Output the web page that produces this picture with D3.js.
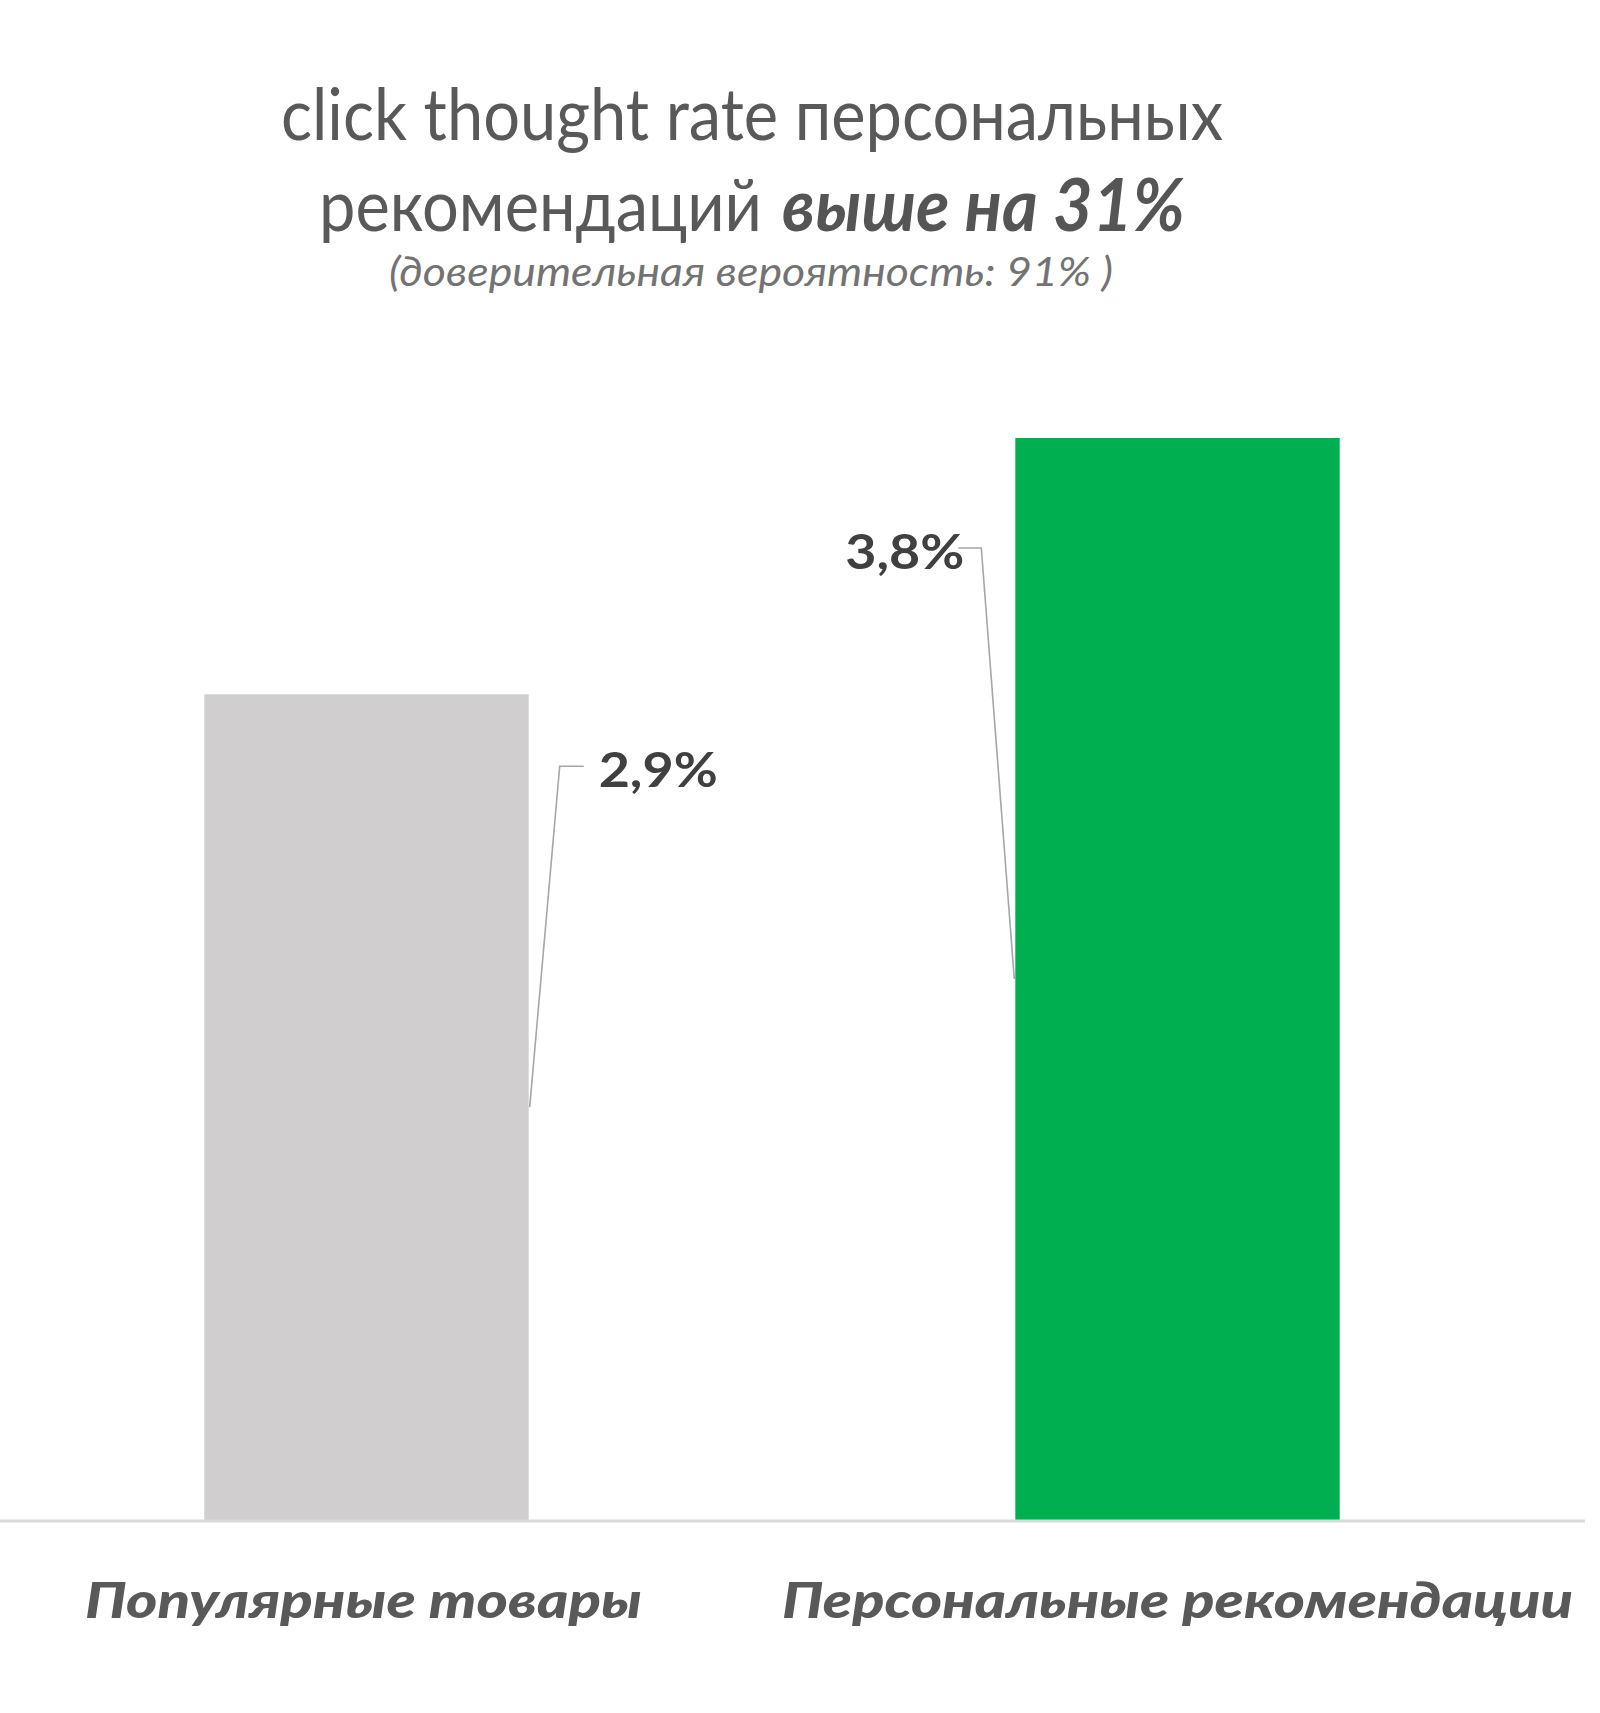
<!DOCTYPE html>
<html>
<head>
<meta charset="utf-8">
<script src="https://cdn.jsdelivr.net/npm/d3@7"></script>
<style>
  html, body { margin: 0; padding: 0; background: #fff; }
  svg { display: block; }
</style>
</head>
<body>
<svg id="chart" width="1600" height="1713"></svg>
<script>
// ---- data ----
const categories = ["Популярные товары", "Персональные рекомендации"];
const values = [2.9, 3.8];
const valueLabels = ["2,9%", "3,8%"];
const barColors = ["#D0CECE", "#00B050"];
const titleLine1 = "click thought rate персональных";
const titleLine2a = "рекомендаций";
const titleLine2b = "выше на 31%";
const subtitle = "(доверительная вероятность: 91% )";

// ---- layout ----
const baseY = 1520;
const svg = d3.select("#chart");

const x = d3.scaleBand()
  .domain(categories)
  .range([-39, 1583])
  .paddingInner(0.6)
  .paddingOuter(0.3);

const y = d3.scaleLinear().domain([0, 4]).range([baseY, baseY - 4 * (1082 / 3.8)]);

const data = categories.map((c, i) => ({ c, v: values[i], label: valueLabels[i], color: barColors[i], i }));

// title
const FONT = "Lato, 'Open Sans', 'DejaVu Sans', sans-serif";
svg.append("text")
  .attr("x", 281).attr("y", 140)
  .attr("font-family", FONT).attr("font-size", 72)
  .attr("fill", "#595959")
  .attr("textLength", 942).attr("lengthAdjust", "spacingAndGlyphs")
  .text(titleLine1);
svg.append("text")
  .attr("x", 319).attr("y", 231)
  .attr("font-family", FONT).attr("font-size", 72)
  .attr("fill", "#595959")
  .attr("textLength", 443).attr("lengthAdjust", "spacingAndGlyphs")
  .text(titleLine2a);
svg.append("text")
  .attr("x", 782).attr("y", 231)
  .attr("font-family", FONT).attr("font-size", 72)
  .attr("font-weight", "bold").attr("font-style", "italic")
  .attr("fill", "#555555")
  .attr("textLength", 403).attr("lengthAdjust", "spacingAndGlyphs")
  .text(titleLine2b);
svg.append("text")
  .attr("x", 389).attr("y", 286)
  .attr("font-family", FONT).attr("font-size", 40)
  .attr("font-style", "italic")
  .attr("fill", "#737373")
  .attr("textLength", 724).attr("lengthAdjust", "spacingAndGlyphs")
  .text(subtitle);

// bars
svg.append("g").selectAll("rect")
  .data(data).join("rect")
  .attr("x", d => x(d.c))
  .attr("y", d => y(d.v))
  .attr("width", x.bandwidth())
  .attr("height", d => y(0) - y(d.v))
  .attr("fill", d => d.color);

// axis baseline
svg.append("line")
  .attr("x1", 0).attr("x2", 1585)
  .attr("y1", baseY + 1).attr("y2", baseY + 1)
  .attr("stroke", "#d9d9d9").attr("stroke-width", 3);

// data labels with leader lines
const labelLayout = [
  { side: "right", dx: 70, dy: 72, lead: 24, tl: 119 },
  { side: "left", dx: 51, dy: 110, lead: 23, tl: 119 }
];
const lab = svg.append("g");
data.forEach((d, i) => {
  const L = labelLayout[i];
  const top = y(d.v);
  const midY = y(d.v / 2);
  const cy = top + L.dy;
  let pts, tx, anchor;
  if (L.side === "right") {
    const edge = x(d.c) + x.bandwidth();
    const lx = edge + L.dx - 15;
    pts = [[lx, cy], [lx - L.lead, cy], [edge + 1, midY]];
    tx = edge + L.dx;
    anchor = "start";
  } else {
    const edge = x(d.c);
    const lx = edge - L.dx + 17;
    pts = [[lx - L.lead, cy], [lx, cy], [edge - 1, midY]];
    tx = edge - L.dx;
    anchor = "end";
  }
  lab.append("path")
    .attr("d", d3.line()(pts))
    .attr("fill", "none")
    .attr("stroke", "#a6a6a6")
    .attr("stroke-width", 1.6);
  lab.append("text")
    .attr("x", tx).attr("y", cy + 21)
    .attr("text-anchor", anchor)
    .attr("font-family", FONT).attr("font-size", 48)
    .attr("font-weight", "bold")
    .attr("fill", "#404040")
    .attr("textLength", L.tl).attr("lengthAdjust", "spacingAndGlyphs")
    .text(d.label);
});

// category labels
const catWidths = [557, 791];
svg.append("g").selectAll("text")
  .data(data).join("text")
  .attr("x", d => x(d.c) + x.bandwidth() / 2 - catWidths[d.i] / 2 + (d.i === 0 ? -3 : 0))
  .attr("y", 1618)
  .attr("font-family", FONT).attr("font-size", 50)
  .attr("font-weight", "900").attr("font-style", "italic")
  .attr("fill", "#595959")
  .attr("textLength", d => catWidths[d.i]).attr("lengthAdjust", "spacingAndGlyphs")
  .text(d => d.c);
</script>
</body>
</html>
